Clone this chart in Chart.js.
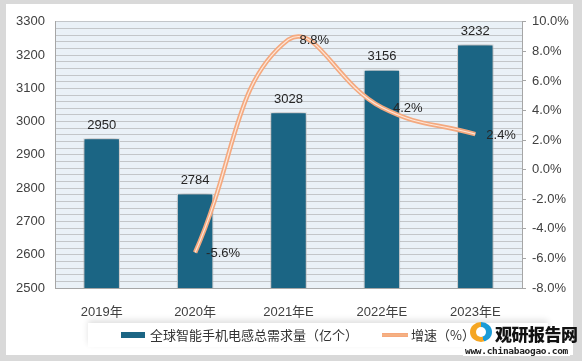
<!DOCTYPE html>
<html>
<head>
<meta charset="utf-8">
<script src="https://cdn.jsdelivr.net/npm/chart.js@4"></script>
<style>
  body { margin: 0; background: #d9d9d9; width: 582px; height: 361px; overflow: hidden; position: relative; font-family: "Noto Sans CJK SC", sans-serif; }
  #card { position: absolute; left: 6px; top: 4px; width: 567px; height: 351px; background: #fff; }
  #wrap { position: absolute; left: 0; top: 0; width: 567px; height: 318px; }
  #legend { position: absolute; left: 82px; top: 319px; width: 460px; height: 24px; background: #fff;
            box-shadow: 0 -3px 6px rgba(0,0,0,0.12); font-size: 13px; color: #333; }
  .item { position: absolute; top: 3px; line-height: 18px; white-space: nowrap; }
  .sw-bar { display: inline-block; width: 24px; height: 6px; background: #1b6584; vertical-align: middle; margin-right: 5px; position: relative; top: -1px; }
  .sw-line { display: inline-block; width: 26px; height: 4px; background: #f4b183; vertical-align: middle; margin-right: 3px; position: relative; top: -1px; border-top: 1px solid #f6a77c; border-bottom: 1px solid #f6a77c; box-sizing: border-box; }
  #logo { position: absolute; left: 468px; top: 320px; width: 114px; height: 41px; }
  #logo .cn { position: absolute; left: 27px; top: 1px; font-size: 17px; font-weight: 900; color: #111; letter-spacing: -0.5px; }
  #logo .url { position: absolute; left: -5px; top: 25px; font-size: 9.5px; font-weight: bold; color: #222; font-family: "DejaVu Sans Mono", monospace; letter-spacing: -0.3px; background: #fff; padding: 0 2px; }
  #logo .icon { position: absolute; left: 2px; top: 2px; width: 22px; height: 20px; border-radius: 50%;
                background: conic-gradient(#1a9bd7 0 45%, #f5a623 45% 100%); }
  #logo .icon:after { content: ""; position: absolute; left: 6px; top: 5px; width: 10px; height: 10px; border-radius: 50%; background: #fff; }
</style>
</head>
<body>
<div id="card">
  <div id="wrap"><canvas id="myChart"></canvas></div>
  <div id="legend">
    <span class="item" style="left:33px"><span class="sw-bar"></span>全球智能手机电感总需求量（亿个）</span>
    <span class="item" style="left:294px"><span class="sw-line"></span>增速（%）</span>
  </div>
</div>
<div id="logo"><div class="icon"></div><div class="cn">观研报告网</div><div class="url">www.chinabaogao.com</div></div>
<script>
const years = ['2019年', '2020年', '2021年E', '2022年E', '2023年E'];
const demand = [2950, 2784, 3028, 3156, 3232];
const growth = [null, -5.6, 8.8, 4.2, 2.4];

const ctx = document.getElementById('myChart');

const plotBg = {
  id: 'plotBg',
  beforeDraw(chart) {
    const a = chart.chartArea, c = chart.ctx;
    c.save();
    c.fillStyle = '#eaf1f7';
    c.fillRect(a.left, a.top, a.right - a.left, a.bottom - a.top);
    c.restore();
  }
};

const barShadow = {
  id: 'barShadow',
  beforeDatasetDraw(chart, args) {
    if (args.index !== 0) return;
    const c = chart.ctx;
    c.save();
    c.shadowColor = 'rgba(0,0,0,0.45)';
    c.shadowBlur = 7;
    c.shadowOffsetX = 0;
    c.shadowOffsetY = 0;
  },
  afterDatasetDraw(chart, args) {
    if (args.index !== 0) return;
    chart.ctx.restore();
  }
};

const valueLabels = {
  id: 'valueLabels',
  afterDatasetsDraw(chart) {
    const c = chart.ctx;
    c.save();
    c.font = '13px "Liberation Sans", "Noto Sans CJK SC", sans-serif';
    c.fillStyle = '#262626';
    c.textBaseline = 'middle';
    chart.getDatasetMeta(0).data.forEach((el, i) => {
      c.textAlign = 'center';
      c.fillText(demand[i], el.x, el.y - 13);
    });
    chart.getDatasetMeta(1).data.forEach((el, i) => {
      if (growth[i] === null) return;
      c.textAlign = 'left';
      c.fillText(growth[i].toFixed(1) + '%', el.x + 11, el.y + 1);
    });
    c.restore();
  }
};

new Chart(ctx, {
  data: {
    labels: years,
    datasets: [
      {
        type: 'bar',
        label: '全球智能手机电感总需求量（亿个）',
        data: demand,
        backgroundColor: '#1b6584',
        borderColor: '#ffffff',
        borderWidth: 1,
        categoryPercentage: 1,
        barPercentage: 0.39,
        yAxisID: 'y',
        order: 2
      },
      {
        type: 'line',
        label: '增速（%）',
        data: growth,
        borderColor: '#f4a97f',
        borderWidth: 4.5,
        tension: 0.45,
        pointRadius: 0,
        yAxisID: 'y1',
        order: 1
      },
      {
        type: 'line',
        label: '',
        data: growth,
        borderColor: '#fde6d8',
        borderWidth: 1.2,
        tension: 0.45,
        pointRadius: 0,
        yAxisID: 'y1',
        order: 0
      }
    ]
  },
  options: {
    responsive: true,
    maintainAspectRatio: false,
    animation: false,
    layout: { padding: { top: 14, left: 0, right: 0, bottom: 0 } },
    plugins: {
      legend: { display: false },
      tooltip: { enabled: false }
    },
    scales: {
      x: {
        grid: { display: false },
        border: { color: '#a6a6a6' },
        ticks: {
          color: '#404040',
          padding: 9,
          font: { size: 13, family: '"Liberation Sans", "Noto Sans CJK SC", sans-serif' }
        },
        afterFit(s) { s.height = 34; }
      },
      y: {
        position: 'left',
        min: 2500,
        max: 3300,
        grid: { color: '#c3c6c9', lineWidth: 1, drawTicks: false },
        border: { color: '#a6a6a6' },
        ticks: {
          stepSize: 20,
          autoSkip: false,
          padding: 10,
          color: '#404040',
          font: { size: 13, family: '"Liberation Sans", sans-serif' },
          callback: v => (v % 100 === 0 ? v : '')
        },
        afterFit(s) { s.width = 49; }
      },
      y1: {
        position: 'right',
        min: -8,
        max: 10,
        grid: { drawOnChartArea: false, tickLength: 4, color: '#a6a6a6' },
        border: { color: '#a6a6a6' },
        ticks: {
          stepSize: 2,
          padding: 6,
          color: '#404040',
          font: { size: 13, family: '"Liberation Sans", sans-serif' },
          callback: v => v.toFixed(1) + '%'
        },
        afterFit(s) { s.width = 51; }
      }
    }
  },
  plugins: [plotBg, barShadow, valueLabels]
});
</script>
</body>
</html>
